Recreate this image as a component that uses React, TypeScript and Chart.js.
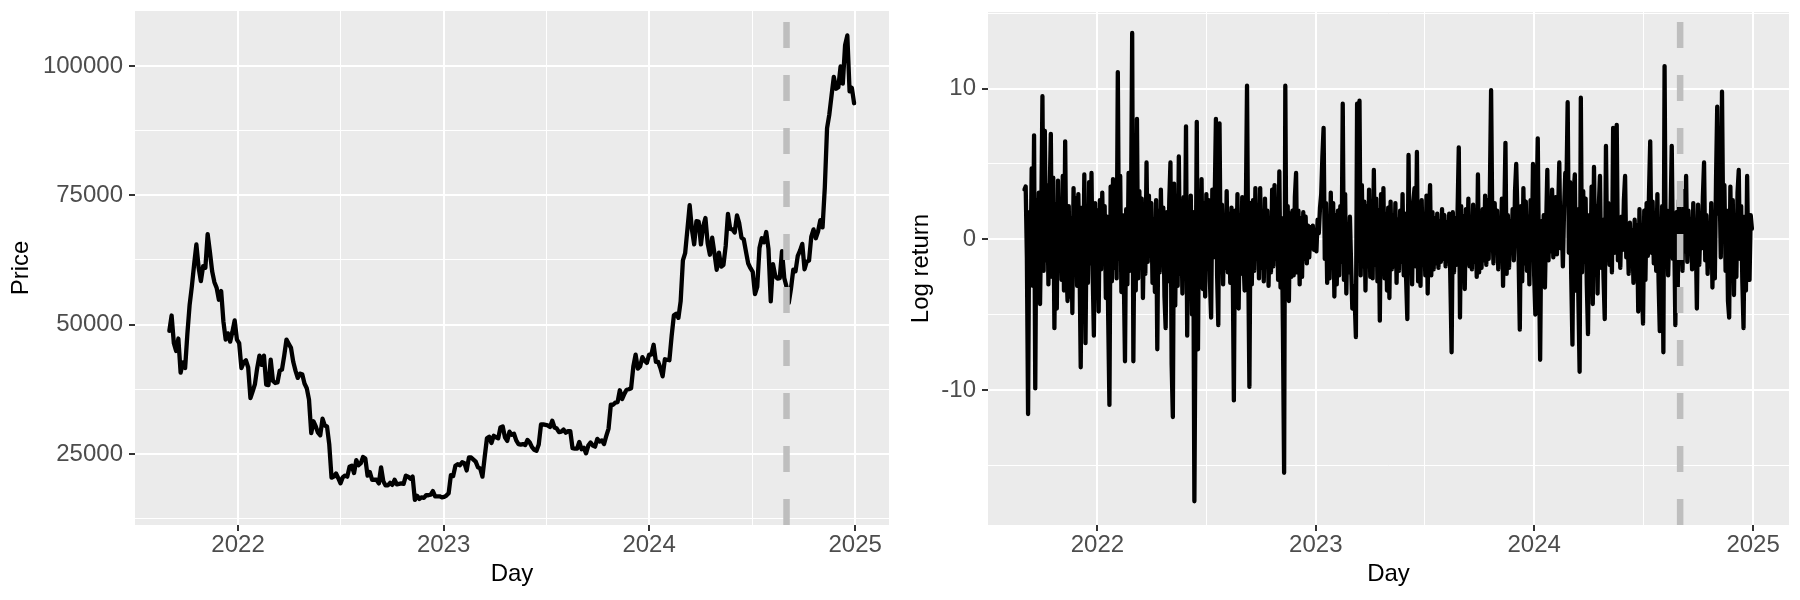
import React, { useEffect, useRef } from "react";
import { Chart, registerables } from "chart.js";

Chart.register(...registerables);

// ---------- data ----------
const START_DATE = "2021-09-01";
const END_AXIS_DATES = ["2021-07-02", "2025-03-02"];
const CUTOFF_DATE = "2024-09-01";
const YEAR_TICK_DATES = ["2022-01-01", "2023-01-01", "2024-01-01", "2025-01-01"];
const YEAR_TICK_LABELS = ["2022", "2023", "2024", "2025"];
const MID_YEAR_DATES = ["2022-07-02", "2023-07-02", "2024-07-02"];

const PRICE_STEP_DAYS = 4;
const RETURN_STEP_DAYS = 2;

const PRICE_MAJOR = [25000, 50000, 75000, 100000];
const PRICE_MINOR = [12500, 37500, 62500, 87500];
const PRICE_LIMITS = [11250, 110630];

const RETURN_MAJOR = [-10, 0, 10];
const RETURN_MINOR = [-15, -5, 5, 15];
const RETURN_LIMITS = [-18.97, 15.09];

// price every 4 days from 2021-09-01
const priceValues = [
  // 2021 Sep
  48800, 51750, 46400, 44900, 47300, 40700, 42700, 41600,
  // Oct
  48200, 53800, 57400, 61600, 65500, 61000, 58400, 61300,
  // Nov
  61000, 67500, 64100, 60300, 58200, 57100, 54800,
  // Dec
  56500, 50600, 47100, 48300, 46700, 48600, 50800, 47100,
  // 2022 Jan
  46400, 41600, 42700, 43100, 41700, 35800, 37100, 38500,
  // Feb
  41600, 44000, 42200, 44000, 38400, 38300, 43200,
  // Mar
  39100, 38700, 38800, 41100, 41300, 44000, 47100,
  // Apr
  46300, 45500, 42800, 41100, 39700, 40500, 40400, 38600,
  // May
  37700, 35500, 29000, 31300, 30300, 29100, 28600, 31800,
  // Jun
  30500, 30300, 26800, 20400, 20600, 21200, 20300,
  // Jul
  19300, 20500, 20800, 20600, 22500, 22700, 21300, 23800,
  // Aug
  22800, 23200, 24400, 24100, 20800, 21500, 20000, 20000,
  // Sep
  20000, 19300, 22400, 19700, 18900, 18900, 19400,
  // Oct
  19000, 20000, 19100, 19200, 19300, 19200, 20800, 20600,
  // Nov
  20200, 20600, 16100, 16900, 16300, 16600, 16500,
  // Dec
  17000, 17000, 17100, 17800, 16800, 16800, 16800, 16600,
  // 2023 Jan
  16700, 16950, 17400, 20900, 20700, 22700, 23000, 22800,
  // Feb
  23400, 23200, 21800, 24300, 24300, 23900, 23500,
  // Mar
  22400, 22200, 20600, 24400, 28000, 28300, 27100, 28500,
  // Apr
  28200, 28000, 30100, 30300, 28200, 27500, 29300,
  // May
  28700, 28900, 27600, 26900, 26800, 26900, 26700, 27700,
  // Jun
  27200, 26300, 25800, 25600, 26800, 30700, 30700,
  // Jul
  30600, 30500, 30200, 31400, 30100, 29900, 29200, 29300,
  // Aug
  29700, 29100, 29400, 29400, 26100, 26000, 26000, 27300,
  // Sep
  25900, 26200, 25100, 26600, 27200, 26600, 26400,
  // Oct
  27900, 27400, 27600, 26900, 28500, 29900, 34500, 34500,
  // Nov
  34900, 35000, 37300, 35600, 36600, 37400, 37500, 37700,
  // Dec
  41900, 44200, 41500, 41900, 43700, 43000, 42600,
  // 2024 Jan
  44200, 44200, 46100, 42800, 42800, 41600, 40000, 43300,
  // Feb
  43200, 43100, 47800, 51800, 52100, 51300, 54500,
  // Mar
  62400, 63800, 68400, 73100, 68400, 65500, 70000, 69900,
  // Apr
  65500, 69000, 70600, 65700, 63500, 66800, 63800, 60600,
  // May
  63900, 61200, 61500, 65200, 71400, 68500, 68400,
  // Jun
  67800, 71100, 69600, 66800, 66500, 64100, 61800, 60900,
  // Jul
  60200, 55900, 57300, 64800, 66700, 65900, 67900, 64600,
  // Aug
  54500, 61700, 59400, 58900, 59000, 64200, 59000,
  // Sep
  57300, 54200, 57000, 60600, 60300, 63300, 64300, 65600,
  // Oct
  60700, 62200, 62400, 67000, 68400, 66700, 68000, 70200,
  // Nov
  68800, 76500, 88000, 90600, 94300, 97900, 95600,
  // Dec
  95900, 99900, 96600, 104000, 105900, 95100, 95800, 92800,
];

// log return (%) every 2 days from 2021-09-01
const returnValues = [
  3.3, 3.5, -1.2, -11.6, 1.8, -2.4, 4.7, -3.1, 6.9, -9.9, 2.6, -1.8, 3.1, -4.3, 1.5,
  9.5, -2.1, 7.2, -1.4, 3.6, -3.0, 2.8, 7.0, -2.5, 4.1, -5.9, 2.3, -4.6, 3.9, -1.7,
  1.6, -2.7, 4.2, -3.4, 6.5, -1.9, -4.1, 2.2, -3.8, 1.4, -4.9, 3.4, -2.2, 2.7, -3.1,
  3.0, -1.5, -8.5, 2.1, -3.6, 4.3, -6.9, 1.7, -2.9, 3.8, -1.6, 4.4, -2.3, -6.4, 2.4,
  -3.3, 1.9, -4.8, 2.6, -2.0, 3.1, -1.4, 2.2, -3.9, 1.5, -5.4, -11.0, 3.5, -2.8, 4.0,
  -1.9, 3.0, -2.6, 11.1, -1.3, 4.2, -3.5, 1.6, -2.4, -8.1, 2.0, -3.0, 4.4, -2.1, 1.3,
  13.7, -8.1, 2.3, -3.4, 8.0, -2.6, 3.2, -1.8, 2.7, -3.9, 1.2, -2.3, 5.1, -1.5, 2.9,
  -1.1, 2.4, -2.9, 1.3, -3.5, 2.6, -7.3, 1.9, -2.2, 3.3, -1.6, 2.1, -3.8, -5.9, 1.8,
  -2.8, 2.5, 5.1, -8.3, -11.8, 3.7, -4.4, 2.9, -3.1, 5.5, -2.3, 1.6, -3.6, 2.8, -1.9,
  7.5, -6.4, 2.1, -3.7, 2.9, -5.0, 1.8, -17.4, -4.2, 7.8, -7.3, 3.2, -2.6, 4.0, -3.3,
  2.4, -3.8, 3.0, -1.9, 2.6, -2.8, -5.2, 3.3, -1.2, 2.7, 8.0, -2.4, -5.7, 7.7, -1.6,
  2.3, -3.0, 1.5, -1.9, 3.2, -2.2, 1.7, -2.9, 2.1, -1.4, -10.7, 1.9, -2.6, 3.0, -4.6,
  1.6, -2.3, 2.8, -1.2, -3.4, 1.9, 10.2, -1.5, -9.8, 2.4, -3.0, 2.6, -2.1, 3.4, -1.3,
  2.1, -2.6, 3.4, -1.9, 1.6, -2.8, 2.7, -1.3, 1.9, -3.1, 1.2, -2.2, 3.3, -1.8, 3.6,
  -1.3, 2.0, -2.7, 4.5, -3.2, 1.4, -5.9, -15.5, 10.2, -3.6, 2.2, -4.1, 1.7, -2.5, 1.9,
  -2.4, 2.8, 4.4, -2.2, 1.9, -3.0, 1.4, -2.5, 1.8, -1.3, 1.5, -1.6, 0.9, -1.2, 0.8,
  -0.6, 0.9, -0.7, 0.5, -0.8, 1.3, 0.4, 2.1, 3.0, 5.5, 7.4, -1.3, 2.4, -2.9, 1.5,
  -2.6, 3.1, -1.9, 2.4, -3.8, 1.6, -3.0, 1.9, -2.4, 2.2, -1.5, 9.0, -2.7, 3.0, -3.6,
  1.0, -2.2, 1.5, -1.7, -4.6, -3.1, -4.0, -6.5, 9.0, 2.9, 9.2, -2.4, 3.6, -1.8, 2.5,
  -3.4, 2.2, -1.8, 3.3, -2.5, 1.6, -2.6, 4.6, -1.7, 2.7, -2.8, 1.9, -5.4, 3.0, -2.3,
  3.4, -2.6, 1.7, -3.4, 2.1, -3.9, 2.5, -2.0, 1.6, -1.8, 2.4, -2.9, 1.3, -2.1, 1.9,
  -1.5, 3.0, -2.4, 1.7, -2.7, -5.3, 5.6, -1.6, 2.2, -3.0, 2.5, 3.4, -1.8, 5.8, -2.8,
  2.0, -3.1, 2.6, -1.7, 1.3, -2.4, 2.9, -3.6, 1.5, 3.6, -2.4, 1.8, -2.0, 1.4, -1.6,
  1.7, -1.9, 1.2, -1.5, 2.0, -1.3, 1.6, -1.8, 1.1, -1.4, 1.7, -2.9, -7.5, 1.8, -2.2,
  1.4, -1.7, 1.9, 6.1, -5.2, 2.2, -2.6, 1.5, -3.3, 2.0, -1.6, 2.7, -1.8, 1.4, -2.0,
  2.3, -1.5, 1.8, -2.5, 4.3, -2.2, 1.6, -1.9, 2.0, -1.4, 2.9, -1.7, 2.6, -1.3, 3.4,
  9.9, 1.1, -1.6, 2.4, -0.8, 1.9, -2.0, 1.3, -1.1, 2.7, -3.1, 1.4, 6.4, -2.3, 1.6,
  -1.9, 1.2, -0.7, 2.0, -1.4, 3.2, 5.0, 1.8, -1.2, -6.0, 2.2, -2.8, 3.4, -1.6, 2.5,
  -2.1, 1.5, -3.0, 2.6, -1.3, 5.0, -2.4, -5.0, 1.9, 6.7, -1.6, -8.0, 1.2, -2.7, 1.6,
  -3.2, 0.9, 4.6, -1.4, 2.1, -0.8, 3.3, -1.2, 1.9, 2.8, -1.0, 1.7, 5.1, -0.6, 1.4,
  -1.8, 2.0, 4.4, 3.6, 9.1, -0.9, 3.8, -2.6, -7.0, 3.1, 4.3, -3.4, 2.0, -4.1, -8.8,
  9.4, -2.2, 3.2, -1.5, 2.7, -3.0, -6.3, 1.6, -2.4, 3.5, -4.3, 4.8, -1.1, 2.2, -3.6,
  2.1, 4.2, -1.9, 1.3, -2.6, -5.3, 6.2, -0.8, 2.4, -1.7, 1.1, -2.2, 7.4, -0.9, 1.6,
  7.6, -1.4, 0.9, -1.9, 1.5, -0.7, 2.6, 4.2, -1.2, 0.8, -2.3, 1.1, -1.6, 0.6, -2.9,
  1.3, -1.8, 0.9, -4.8, 2.0, -1.4, -3.2, -5.6, 1.9, -2.7, 2.4, -1.1, 3.1, 6.5, -0.9,
  2.5, -1.6, 1.2, -2.1, 3.0, -2.8, -6.1, -3.5, 2.2, -7.5, 11.5, -1.7, 1.9, -2.4, 0.8,
  1.6, 6.2, -1.3, 0.9, -5.7, 1.8, -3.4, 2.6, -1.0, 1.5, -2.1, 3.2, -0.8, 4.2, -1.5,
  1.9, -0.9, 1.3, -2.0, 2.4, -1.2, 0.7, -4.6, 2.3, -1.7, 1.1, -0.6, 2.8, 5.1, -1.4,
  1.6, -2.3, 0.9, -1.8, 2.4, -3.2, 1.5, -2.6, 3.9, 8.8, 1.7, 3.4, -1.2, 9.8, 0.8,
  3.6, -2.1, 1.9, -4.1, -5.2, 3.5, -1.8, 2.6, -3.7, 1.4, -2.5, 3.1, 4.6, -1.3, 2.2,
  -2.8, -5.9, 1.5, -3.4, 4.2, -1.9, -2.7, 1.6, 0.7,
];

// ---------- helpers ----------
const DAY_MS = 86400000;
const dayOf = (iso: string) =>
  Math.round((Date.parse(iso) - Date.parse(START_DATE)) / DAY_MS);

const FONT_FAMILY = "'Liberation Sans', Arial, Helvetica, sans-serif";

const panelBackground = {
  id: "panelBackground",
  beforeDraw(chart: any) {
    const { ctx, chartArea: a } = chart;
    ctx.save();
    ctx.fillStyle = "#EBEBEB";
    ctx.fillRect(a.left, a.top, a.right - a.left, a.bottom - a.top);
    ctx.restore();
  },
};

interface PanelOpts {
  values: number[];
  step: number;
  yMajor: number[];
  yMinor: number[];
  yLimits: number[];
  yTitle: string;
  yAxisWidth: number;
  padTop: number;
}

function buildChart(canvas: HTMLCanvasElement, o: PanelOpts) {
  const xMajor = YEAR_TICK_DATES.map(dayOf);
  const xMinor = MID_YEAR_DATES.map(dayOf);
  const xLabels = new Map<number, string>();
  xMajor.forEach((d, i) => xLabels.set(d, YEAR_TICK_LABELS[i]));
  const yMajorSet = new Set(o.yMajor);
  const cut = dayOf(CUTOFF_DATE);
  const series = o.values.map((v, i) => ({ x: i * o.step, y: v }));
  const vline = [
    { x: cut, y: o.yLimits[0] },
    { x: cut, y: o.yLimits[1] },
  ];

  const tickFont = { family: FONT_FAMILY, size: 24 };
  const titleFont = { family: FONT_FAMILY, size: 24 };

  return new Chart(canvas, {
    type: "line",
    data: {
      datasets: [
        {
          data: vline,
          borderColor: "#BEBEBE",
          borderWidth: 6.5,
          borderDash: [26, 27],
          borderCapStyle: "butt",
          pointRadius: 0,
          order: 0,
        },
        {
          data: series,
          borderColor: "#000000",
          borderWidth: 4.3,
          borderJoinStyle: "round",
          borderCapStyle: "round",
          pointRadius: 0,
          tension: 0,
          order: 1,
        },
      ],
    },
    options: {
      animation: false,
      responsive: false,
      devicePixelRatio: 1,
      events: [],
      layout: { padding: { left: 0, right: 11, top: o.padTop, bottom: 0 } },
      plugins: {
        legend: { display: false },
        tooltip: { enabled: false },
      },
      scales: {
        x: {
          type: "linear",
          min: dayOf(END_AXIS_DATES[0]),
          max: dayOf(END_AXIS_DATES[1]),
          afterBuildTicks: (axis: any) => {
            axis.ticks = [...xMajor, ...xMinor]
              .sort((a, b) => a - b)
              .map((v) => ({ value: v }));
          },
          afterFit: (axis: any) => {
            axis.height = 75;
            axis.paddingLeft = 0;
            axis.paddingRight = 0;
          },
          ticks: {
            autoSkip: false,
            maxRotation: 0,
            minRotation: 0,
            padding: 0,
            color: "#4D4D4D",
            font: tickFont,
            callback: (v: any) => xLabels.get(Number(v)) ?? "",
          },
          grid: {
            color: "#FFFFFF",
            lineWidth: (ctx: any) => (xLabels.has(ctx.tick?.value) ? 2 : 1),
            tickColor: (ctx: any) =>
              xLabels.has(ctx.tick?.value) ? "#333333" : "rgba(0,0,0,0)",
            tickLength: 6,
            tickWidth: 2,
          },
          border: { display: false },
          title: {
            display: true,
            text: "Day",
            color: "#000000",
            font: titleFont,
            padding: { top: 0, bottom: 11.6 },
          },
        },
        y: {
          type: "linear",
          min: o.yLimits[0],
          max: o.yLimits[1],
          afterBuildTicks: (axis: any) => {
            axis.ticks = [...o.yMajor, ...o.yMinor]
              .sort((a, b) => a - b)
              .map((v) => ({ value: v }));
          },
          afterFit: (axis: any) => {
            axis.width = o.yAxisWidth;
            axis.paddingTop = 0;
            axis.paddingBottom = 0;
          },
          ticks: {
            autoSkip: false,
            padding: 6,
            color: "#4D4D4D",
            font: tickFont,
            callback: (v: any) => (yMajorSet.has(Number(v)) ? String(v) : ""),
          },
          grid: {
            color: "#FFFFFF",
            lineWidth: (ctx: any) => (yMajorSet.has(ctx.tick?.value) ? 2 : 1),
            tickColor: (ctx: any) =>
              yMajorSet.has(ctx.tick?.value) ? "#333333" : "rgba(0,0,0,0)",
            tickLength: 6,
            tickWidth: 2,
          },
          border: { display: false },
          title: {
            display: true,
            text: o.yTitle,
            color: "#000000",
            font: titleFont,
            padding: { top: 6.6, bottom: 0 },
          },
        },
      },
    } as any,
    plugins: [panelBackground],
  });
}

export default function App() {
  const leftRef = useRef<HTMLCanvasElement>(null);
  const rightRef = useRef<HTMLCanvasElement>(null);

  useEffect(() => {
    const c1 = buildChart(leftRef.current!, {
      values: priceValues,
      step: PRICE_STEP_DAYS,
      yMajor: PRICE_MAJOR,
      yMinor: PRICE_MINOR,
      yLimits: PRICE_LIMITS,
      yTitle: "Price",
      yAxisWidth: 135,
      padTop: 11,
    });
    const c2 = buildChart(rightRef.current!, {
      values: returnValues,
      step: RETURN_STEP_DAYS,
      yMajor: RETURN_MAJOR,
      yMinor: RETURN_MINOR,
      yLimits: RETURN_LIMITS,
      yTitle: "Log return",
      yAxisWidth: 88,
      padTop: 12,
    });
    return () => {
      c1.destroy();
      c2.destroy();
    };
  }, []);

  return (
    <div
      style={{
        position: "absolute",
        left: 0,
        top: 0,
        width: 1800,
        height: 600,
        background: "#FFFFFF",
        overflow: "hidden",
      }}
    >
      <canvas
        ref={leftRef}
        width={900}
        height={600}
        style={{ position: "absolute", left: 0, top: 0, width: 900, height: 600 }}
      />
      <canvas
        ref={rightRef}
        width={900}
        height={600}
        style={{ position: "absolute", left: 900, top: 0, width: 900, height: 600 }}
      />
    </div>
  );
}
